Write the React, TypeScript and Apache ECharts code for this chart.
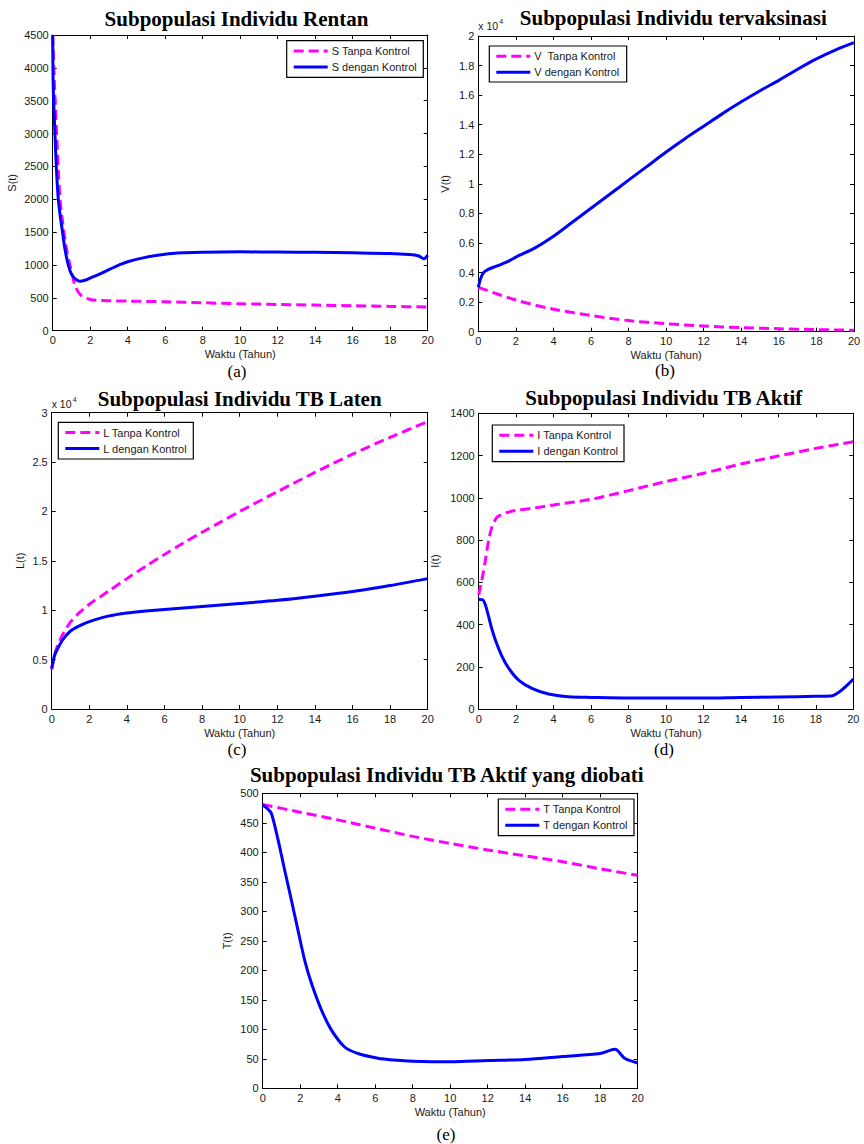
import React, { useEffect, useRef } from "react";
import * as echarts from "echarts";

// ---------- data ----------
// (a) Susceptible S(t)
const T_S_TANPA = [0, 0.1, 0.21, 0.3, 0.39, 0.5, 0.6, 0.75, 0.92, 1.05, 1.2, 1.5, 2, 2.5, 3, 4, 6, 8, 10, 12, 14, 16, 18, 20];
const S_TANPA = [4500, 3700, 3000, 2450, 2000, 1720, 1500, 1220, 1000, 850, 680, 540, 475, 460, 455, 450, 440, 425, 410, 400, 390, 380, 370, 360];
const T_S_DENGAN = [0, 0.03, 0.12, 0.2, 0.3, 0.4, 0.5, 0.65, 0.83, 1.0, 1.2, 1.45, 1.8, 2, 2.5, 3, 3.5, 4, 5, 6, 7, 8, 10, 12, 14, 16, 18, 19, 19.5, 19.8, 20];
const S_DENGAN = [4500, 3700, 3000, 2450, 2000, 1750, 1550, 1250, 1000, 860, 790, 752, 775, 800, 860, 930, 995, 1050, 1120, 1165, 1185, 1195, 1200, 1198, 1192, 1185, 1175, 1160, 1140, 1095, 1150];

// (b) Vaccinated V(t)
const T_V_TANPA = [0, 2, 4, 6, 8, 10, 12, 14, 16, 18, 20];
const V_TANPA = [3000, 2140, 1520, 1100, 750, 540, 380, 280, 200, 140, 100];
const T_V_DENGAN = [0, 0.1, 0.25, 0.5, 1, 1.5, 2, 3, 4, 5, 6, 7, 8, 9, 10, 11, 12, 13, 14, 15, 16, 17, 18, 19, 20];
const V_DENGAN = [3000, 3500, 3950, 4200, 4450, 4700, 5050, 5650, 6450, 7400, 8350, 9300, 10250, 11200, 12150, 13050, 13900, 14750, 15550, 16300, 17000, 17750, 18450, 19050, 19550];

// (c) Latent L(t)
const T_L = [0, 0.15, 0.33, 0.6, 1, 1.5, 2, 3, 4, 5, 6, 7, 8, 9, 10, 12, 14, 16, 18, 20];
const L_TANPA = [4000, 5500, 6500, 7600, 8800, 9800, 10600, 11900, 13200, 14450, 15650, 16800, 17900, 18950, 20000, 22000, 23950, 25800, 27500, 29100];
const L_DENGAN = [4100, 5400, 6150, 7050, 7900, 8450, 8850, 9400, 9720, 9920, 10080, 10230, 10380, 10530, 10680, 11000, 11420, 11900, 12500, 13200];

// (d) Active I(t)
const T_I_TANPA = [0, 0.18, 0.36, 0.53, 0.7, 0.85, 1, 1.5, 2, 3, 4, 6, 8, 10, 12, 14, 16, 18, 20];
const I_TANPA = [540, 615, 705, 800, 860, 890, 910, 930, 940, 952, 966, 993, 1034, 1077, 1116, 1160, 1198, 1234, 1265];
const T_I_DENGAN = [0, 0.2, 0.35, 0.53, 0.7, 0.89, 1.25, 1.6, 2.13, 2.84, 3.73, 4.8, 6, 8, 10, 12, 14, 16, 18, 18.8, 20];
const I_DENGAN = [519, 518, 495, 437, 380, 327, 248, 193, 137, 98, 71, 58, 55, 52, 52, 52, 55, 57, 60, 61, 142];

// (e) Treated T(t)
const T_T_TANPA = [0, 2, 4, 6, 8, 10, 12, 14, 16, 18, 20];
const T_TANPA = [481, 468, 455, 441, 427, 415, 404, 394, 384, 372, 361];
const T_T_DENGAN = [0, 0.25, 0.46, 0.82, 1.17, 1.53, 1.88, 2.24, 2.6, 3.13, 3.66, 4.37, 5.08, 6.15, 7, 8, 10, 12, 14, 16, 18, 18.79, 19.3, 20];
const T_DENGAN = [480, 474, 466, 421, 370, 319, 268, 217, 178, 133, 99, 70, 59, 51, 48, 46, 45, 47, 49, 54, 59, 66, 51, 43];

const X_TICKS_MAX = 20;
const X_TICK_STEP = 2;
const X_NAME = "Waktu (Tahun)";

// ---------- styling ----------
const MAGENTA = "#ff00ff";
const BLUE = "#0000ff";
const SANS = '"Liberation Sans", Arial, Helvetica, sans-serif';
const SERIF = '"Liberation Serif", "Times New Roman", Times, serif';
const TXT = "#1a1a1a";

const PANELS = [
  {
    grid: { left: 52.7, top: 35, width: 375, height: 295.7 },
    yMax: 4500, yStep: 500, div: 1, yName: "S(t)", yNameGap: 35.5,
    title: "Subpopulasi Individu Rentan", titleX: 236.5, titleY: 18.8,
    tag: "(a)", tagX: 237, tagY: 371,
    legend: { x: 286.7, y: 40.7, w: 136.6, h: 36.6 },
    names: ["S Tanpa Kontrol", "S dengan Kontrol"],
    series: [[T_S_TANPA, S_TANPA], [T_S_DENGAN, S_DENGAN]],
    exp: null as null | { x: number; y: number },
  },
  {
    grid: { left: 478.3, top: 36, width: 375.7, height: 295.7 },
    yMax: 20000, yStep: 2000, div: 10000, yName: "V(t)", yNameGap: 27.5,
    title: "Subpopulasi Individu tervaksinasi", titleX: 673.3, titleY: 17.5,
    tag: "(b)", tagX: 665, tagY: 370,
    legend: { x: 489.3, y: 46, w: 137.4, h: 36 },
    names: ["V  Tanpa Kontrol", "V dengan Kontrol"],
    series: [[T_V_TANPA, V_TANPA], [T_V_DENGAN, V_DENGAN]],
    exp: { x: 478.3, y: 26.2 },
  },
  {
    grid: { left: 51.7, top: 412.7, width: 376, height: 296.3 },
    yMax: 30000, yStep: 5000, div: 10000, yName: "L(t)", yNameGap: 26,
    title: "Subpopulasi Individu TB Laten", titleX: 239.7, titleY: 398.7,
    tag: "(c)", tagX: 237, tagY: 749,
    legend: { x: 58.3, y: 422.3, w: 135, h: 36.7 },
    names: ["L Tanpa Kontrol", "L dengan Kontrol"],
    series: [[T_L, L_TANPA], [T_L, L_DENGAN]],
    exp: { x: 51.7, y: 403.5 },
  },
  {
    grid: { left: 478.7, top: 413.3, width: 374.6, height: 295.7 },
    yMax: 1400, yStep: 200, div: 1, yName: "I(t)", yNameGap: 38,
    title: "Subpopulasi Individu TB Aktif", titleX: 663.8, titleY: 397.8,
    tag: "(d)", tagX: 664, tagY: 749,
    legend: { x: 492.3, y: 425, w: 131.7, h: 36.7 },
    names: ["I Tanpa Kontrol", "I dengan Kontrol"],
    series: [[T_I_TANPA, I_TANPA], [T_I_DENGAN, I_DENGAN]],
    exp: null,
  },
  {
    grid: { left: 262.7, top: 793.3, width: 375, height: 295 },
    yMax: 500, yStep: 50, div: 1, yName: "T(t)", yNameGap: 30.5,
    title: "Subpopulasi Individu TB Aktif yang diobati", titleX: 446.7, titleY: 774.5,
    tag: "(e)", tagX: 446, tagY: 1134,
    legend: { x: 498.3, y: 799, w: 135.7, h: 36.7 },
    names: ["T Tanpa Kontrol", "T dengan Kontrol"],
    series: [[T_T_TANPA, T_TANPA], [T_T_DENGAN, T_DENGAN]],
    exp: null,
  },
];

function buildOption() {
  const axisLine = { show: true, onZero: false, lineStyle: { color: "#000", width: 1 } };
  const axisTick = { show: true, inside: true, length: 4, lineStyle: { color: "#000", width: 1 } };
  const labelBase = { fontSize: 11, color: TXT, fontFamily: SANS, showMinLabel: true, showMaxLabel: true, hideOverlap: false };

  const grid: any[] = [];
  const xAxis: any[] = [];
  const yAxis: any[] = [];
  const series: any[] = [];
  const graphic: any[] = [];

  PANELS.forEach((p, i) => {
    grid.push({ ...p.grid, containLabel: false, show: true, backgroundColor: "#fff", borderColor: "#000", borderWidth: 0 });
    xAxis.push({
      type: "value", gridIndex: i, min: 0, max: X_TICKS_MAX, interval: X_TICK_STEP, position: "bottom",
      name: X_NAME, nameLocation: "middle", nameGap: 18,
      nameTextStyle: { fontSize: 11, color: TXT, fontFamily: SANS },
      axisLine, axisTick, axisLabel: { ...labelBase, margin: 4 }, splitLine: { show: false },
    });
    xAxis.push({
      type: "value", gridIndex: i, min: 0, max: X_TICKS_MAX, interval: X_TICK_STEP, position: "top",
      axisLine, axisTick, axisLabel: { show: false }, splitLine: { show: false },
    });
    yAxis.push({
      type: "value", gridIndex: i, min: 0, max: p.yMax, interval: p.yStep, position: "left",
      name: p.yName, nameLocation: "middle", nameGap: p.yNameGap, nameRotate: 90,
      nameTextStyle: { fontSize: 11, color: TXT, fontFamily: SANS },
      axisLine, axisTick,
      axisLabel: { ...labelBase, margin: 4, formatter: (v: number) => String(v / p.div) },
      splitLine: { show: false },
    });
    yAxis.push({
      type: "value", gridIndex: i, min: 0, max: p.yMax, interval: p.yStep, position: "right",
      axisLine, axisTick, axisLabel: { show: false }, splitLine: { show: false },
    });

    p.series.forEach(([t, v], k) => {
      series.push({
        type: "line",
        name: p.names[k],
        xAxisIndex: 2 * i,
        yAxisIndex: 2 * i,
        data: (t as number[]).map((x, j) => [x, (v as number[])[j]]),
        showSymbol: false,
        symbol: "none",
        smooth: 0.3,
        lineStyle: { color: k ? BLUE : MAGENTA, width: 3, type: k ? "solid" : [10, 5], cap: "butt", join: "round" },
        z: k ? 3 : 2,
      });
    });

    // title
    graphic.push({
      type: "text", z: 50,
      style: { text: p.title, x: p.titleX, y: p.titleY, align: "center", verticalAlign: "middle",
        fontFamily: SERIF, fontWeight: "bold", fontSize: 21, fill: "#000" },
    });
    // sub-figure tag
    graphic.push({
      type: "text", z: 50,
      style: { text: p.tag, x: p.tagX, y: p.tagY, align: "center", verticalAlign: "middle",
        fontFamily: SERIF, fontSize: 17, fill: "#000" },
    });
    // exponent label
    if (p.exp) {
      graphic.push({
        type: "text", z: 50,
        style: { text: "x 10", x: p.exp.x, y: p.exp.y, align: "left", verticalAlign: "middle",
          fontFamily: SANS, fontSize: 10.5, fill: TXT },
      });
      graphic.push({
        type: "text", z: 50,
        style: { text: "4", x: p.exp.x + 21, y: p.exp.y - 4.5, align: "left", verticalAlign: "middle",
          fontFamily: SANS, fontSize: 7, fill: TXT },
      });
    }
    // legend box
    const L = p.legend;
    graphic.push({
      type: "rect", z: 60,
      shape: { x: L.x, y: L.y, width: L.w, height: L.h },
      style: { fill: "#fff", stroke: "#000", lineWidth: 1.2 },
    });
    [0, 1].forEach((k) => {
      const yy = L.y + (k ? 26.2 : 10.2);
      graphic.push({
        type: "line", z: 61,
        shape: { x1: L.x + 7, y1: yy, x2: L.x + 41, y2: yy },
        style: { stroke: k ? BLUE : MAGENTA, lineWidth: 3, lineDash: k ? null : [10, 5] },
      });
      graphic.push({
        type: "text", z: 61,
        style: { text: p.names[k], x: L.x + 45, y: yy, align: "left", verticalAlign: "middle",
          fontFamily: SANS, fontSize: 11, fill: TXT },
      });
    });
  });

  return {
    animation: false,
    backgroundColor: "#fff",
    textStyle: { fontFamily: SANS },
    grid, xAxis, yAxis, series, graphic,
  };
}

export default function App() {
  const ref = useRef<HTMLDivElement>(null);
  useEffect(() => {
    if (!ref.current) return;
    const chart = echarts.init(ref.current, undefined, { renderer: "svg" });
    chart.setOption(buildOption() as any);
    return () => chart.dispose();
  }, []);
  return (
    <div
      ref={ref}
      style={{ position: "absolute", left: 0, top: 0, width: 864, height: 1144, background: "#fff" }}
    />
  );
}
